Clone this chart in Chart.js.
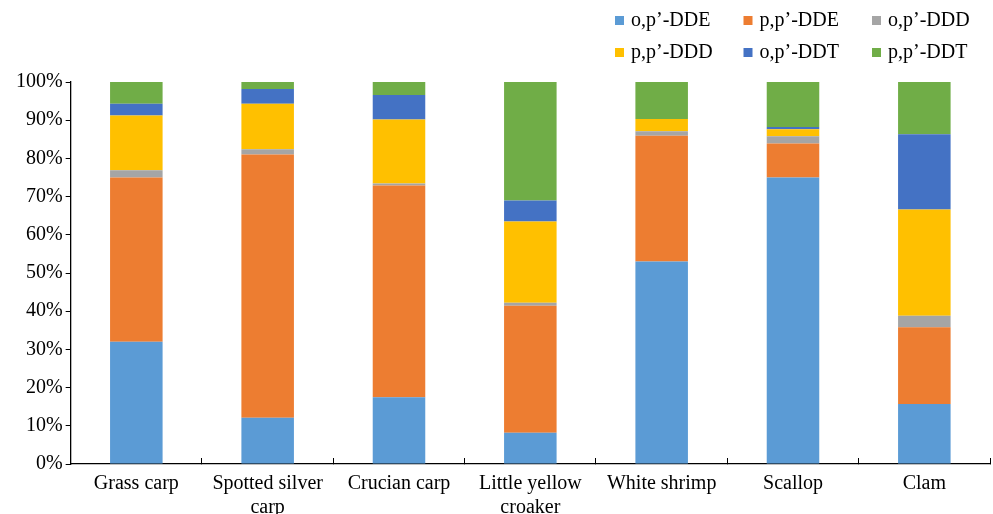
<!DOCTYPE html>
<html>
<head>
<meta charset="utf-8">
<script src="https://cdn.jsdelivr.net/npm/chart.js@4.4.1/dist/chart.umd.min.js"></script>
<style>
    body { margin: 0; background: #fff; }
    #wrap { width: 993px; height: 514px; position: relative; }
</style>
</head>
<body>
<div id="wrap"><canvas id="ddtChart"></canvas></div>
<script>
// Categorias (espécies) e percentuais de cada composto
const categories = ['Grass carp', ['Spotted silver', 'carp'], 'Crucian carp', ['Little yellow', 'croaker'], 'White shrimp', 'Scallop', 'Clam'];
const seriesNames = ['o,p\u2019-DDE', 'p,p\u2019-DDE', 'o,p\u2019-DDD', 'p,p\u2019-DDD', 'o,p\u2019-DDT', 'p,p\u2019-DDT'];
const opDDE = [32.0, 12.1, 17.5, 8.2, 53.0, 75.0, 15.7];
const ppDDE = [43.0, 68.9, 55.4, 33.2, 32.9, 8.9, 20.1];
const opDDD = [1.9, 1.4, 0.5, 0.8, 1.2, 1.9, 3.0];
const ppDDD = [14.3, 11.9, 16.8, 21.3, 3.2, 1.8, 27.8];
const opDDT = [3.1, 3.9, 6.4, 5.5, 0.0, 0.6, 19.7];
const ppDDT = [5.7, 1.8, 3.4, 31.0, 9.7, 11.8, 13.7];
const yTicks = [0, 10, 20, 30, 40, 50, 60, 70, 80, 90, 100];

const colors = ['#5B9BD5', '#ED7D31', '#A5A5A5', '#FFC000', '#4472C4', '#70AD47'];
const seriesValues = [opDDE, ppDDE, opDDD, ppDDD, opDDT, ppDDT];
const serif = '"Liberation Serif", "DejaVu Serif", serif';

const datasets = seriesNames.map(function(name, i) {
    return {
        label: name,
        data: seriesValues[i],
        backgroundColor: colors[i],
        borderWidth: 0,
        categoryPercentage: 1.0,
        barPercentage: 0.4
    };
});

// Legenda em duas linhas de três itens, alinhada à direita
const gridLegend = {
    id: 'gridLegend',
    afterDraw(chart) {
        const c = chart.ctx;
        const startX = chart.width - 378;
        const colW = 128.5;
        const rowY = [20, 52];
        c.save();
        c.font = '20px ' + serif;
        c.textBaseline = 'middle';
        chart.data.datasets.forEach(function(ds, i) {
            const x = startX + (i % 3) * colW;
            const y = rowY[Math.floor(i / 3)];
            c.fillStyle = ds.backgroundColor;
            c.fillRect(x, y - 4, 9, 9);
            c.fillStyle = '#000';
            c.fillText(ds.label, x + 16, y + 1);
        });
        c.restore();
    }
};

new Chart(document.getElementById('ddtChart'), {
    type: 'bar',
    data: { labels: categories, datasets: datasets },
    options: {
        responsive: true,
        maintainAspectRatio: false,
        animation: false,
        layout: { padding: { top: 82, left: 13, right: 3, bottom: -20 } },
        plugins: {
            legend: { display: false },
            tooltip: { enabled: false }
        },
        scales: {
            x: {
                stacked: true,
                grid: { drawOnChartArea: false, drawTicks: true, tickLength: -6, color: '#000', offset: true },
                border: { color: '#000', width: 1.3 },
                ticks: { color: '#000', font: { family: serif, size: 20 }, padding: 14, maxRotation: 0, autoSkip: false }
            },
            y: {
                stacked: true,
                min: 0,
                max: 100,
                afterBuildTicks: function(axis) {
                    axis.ticks = yTicks.map(function(v) { return { value: v }; });
                },
                grid: { drawOnChartArea: false, drawTicks: true, tickLength: 5, color: '#000' },
                border: { color: '#000', width: 1.3 },
                ticks: {
                    color: '#000',
                    font: { family: serif, size: 20 },
                    padding: 3,
                    callback: function(v) { return v + '%'; }
                }
            }
        }
    },
    plugins: [gridLegend]
});
</script>
</body>
</html>
